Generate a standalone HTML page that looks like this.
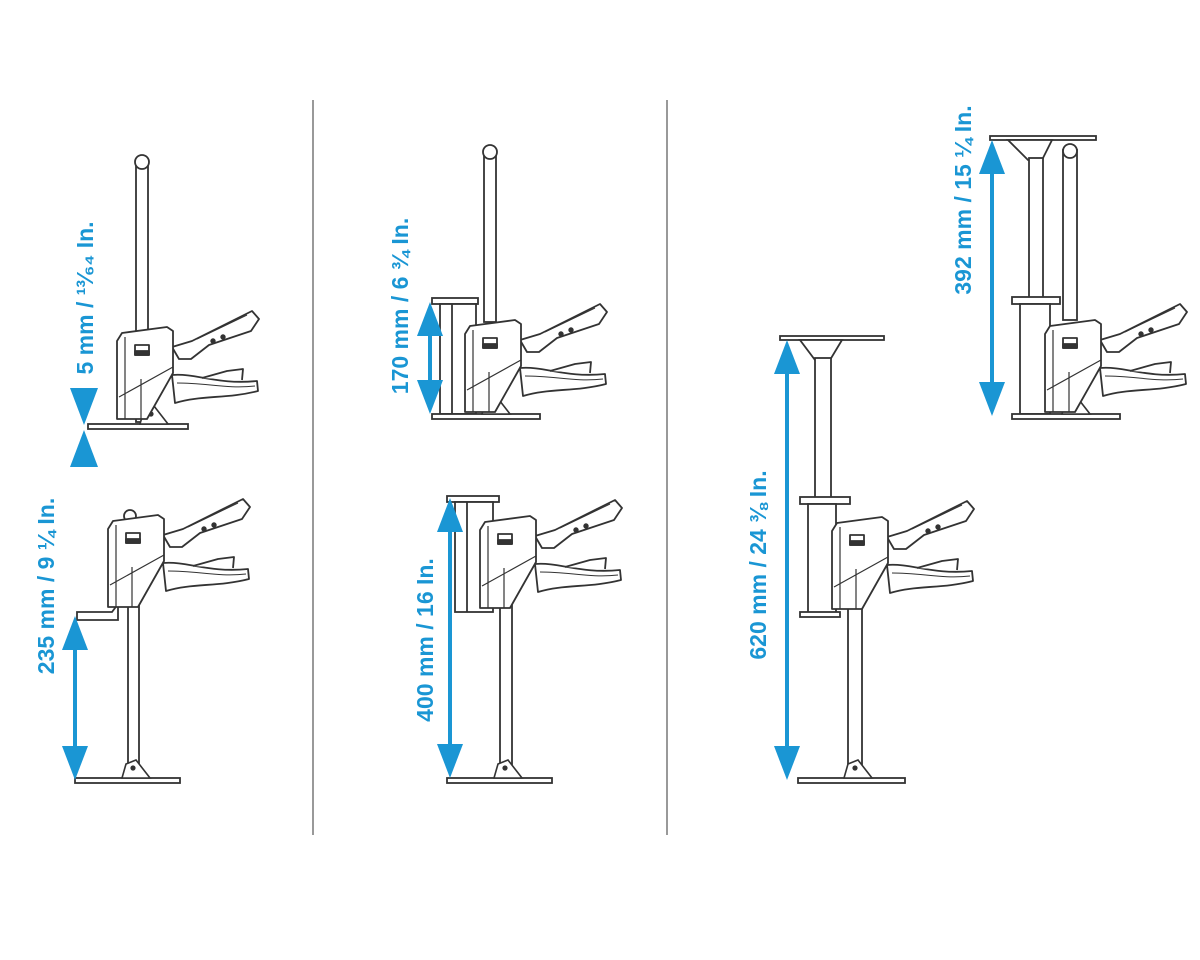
<!DOCTYPE html>
<html><head><meta charset="utf-8"><style>
html,body{margin:0;padding:0;background:#fff}
svg{display:block}
text{font-family:"Liberation Sans Narrow","Liberation Sans",sans-serif;font-weight:bold;fill:#1a96d4;font-size:23px}
</style></head><body>
<svg width="1200" height="960" viewBox="0 0 1200 960" xmlns="http://www.w3.org/2000/svg">
<defs>
<g id="head" fill="#fff" stroke="#333" stroke-width="1.8" stroke-linejoin="round">
  <path d="M55,14 L75,8 L135,-22 L142,-14 L134,-2 L92,12 L74,26 L62,26 Z"/>
  <path d="M80,6 L130,-18" fill="none" stroke-width="1"/>
  <circle cx="96" cy="8" r="1.8" fill="#333"/><circle cx="106" cy="4" r="1.8" fill="#333"/>
  <path d="M55,42 C80,40 100,52 140,48 L141,58 C110,66 84,62 58,70 Z"/>
  <path d="M85,45 L110,38 L126,36 L125,47" />
  <path d="M60,50 C90,50 110,56 138,53" fill="none" stroke-width="1"/>
  <path d="M0,8 L5,0 L50,-6 L56,-2 L56,40 L30,86 L0,86 Z"/>
  <path d="M8,4 L8,86 M2,64 L56,34 M24,46 L24,86" fill="none" stroke-width="1.2"/>
  <rect x="18" y="12" width="14" height="10" fill="#fff"/>
  <rect x="18" y="18" width="14" height="4" fill="#333"/>
</g>
<g id="foot" fill="#fff" stroke="#333" stroke-width="1.6">
  <path d="M-10,0 L-6,-14 L4,-18 L18,0 Z"/>
  <circle cx="1" cy="-10" r="1.8" fill="#333"/>
</g>
<path id="tri" d="M-13,0 L13,0 L0,-34 Z" fill="#1a96d4"/>
</defs>

<line x1="313" y1="100" x2="313" y2="835" stroke="#999" stroke-width="2"/>
<line x1="667" y1="100" x2="667" y2="835" stroke="#999" stroke-width="2"/>

<g fill="#fff" stroke="#333" stroke-width="1.8">
<rect x="136" y="162" width="12" height="260"/>
<circle cx="142" cy="162" r="7"/>
<rect x="88" y="424" width="100" height="5"/>
<use href="#foot" x="150" y="424"/>
<use href="#head" x="117" y="333"/>

<circle cx="130" cy="516" r="6"/>
<rect x="128" y="590" width="11" height="188"/>
<path d="M77,612 L112,612 L118,604 L118,620 L77,620 Z"/>
<rect x="75" y="778" width="105" height="5"/>
<use href="#foot" x="132" y="778"/>
<use href="#head" x="108" y="521"/>

<rect x="484" y="152" width="12" height="170"/>
<circle cx="490" cy="152" r="7"/>
<rect x="432" y="298" width="46" height="6"/>
<rect x="440" y="304" width="36" height="110"/>
<line x1="452" y1="304" x2="452" y2="414"/>
<rect x="432" y="414" width="108" height="5"/>
<use href="#foot" x="492" y="414"/>
<use href="#head" x="465" y="326"/>

<rect x="447" y="496" width="52" height="6"/>
<rect x="455" y="502" width="38" height="110"/>
<line x1="467" y1="502" x2="467" y2="612"/>
<rect x="500" y="600" width="12" height="178"/>
<rect x="447" y="778" width="105" height="5"/>
<use href="#foot" x="504" y="778"/>
<use href="#head" x="480" y="522"/>

<rect x="780" y="336" width="104" height="4"/>
<path d="M800,340 L842,340 L830,360 L815,360 Z"/>
<rect x="815" y="358" width="16" height="140"/>
<rect x="800" y="497" width="50" height="7"/>
<rect x="808" y="504" width="28" height="110"/>
<rect x="800" y="612" width="40" height="5"/>
<rect x="848" y="600" width="14" height="178"/>
<rect x="798" y="778" width="107" height="5"/>
<use href="#foot" x="854" y="778"/>
<use href="#head" x="832" y="523"/>

<rect x="990" y="136" width="106" height="4"/>
<path d="M1008,140 L1052,140 L1042,160 L1028,160 Z"/>
<rect x="1029" y="158" width="14" height="140"/>
<rect x="1063" y="150" width="14" height="170"/>
<circle cx="1070" cy="151" r="7"/>
<rect x="1012" y="297" width="48" height="7"/>
<rect x="1020" y="304" width="30" height="110"/>
<rect x="1012" y="414" width="108" height="5"/>
<use href="#foot" x="1072" y="414"/>
<use href="#head" x="1045" y="326"/>
</g>

<g stroke="#1a96d4" stroke-width="4">
<line x1="75" y1="640" x2="75" y2="755"/>
<line x1="430" y1="325" x2="430" y2="390"/>
<line x1="450" y1="525" x2="450" y2="750"/>
<line x1="787" y1="365" x2="787" y2="755"/>
<line x1="992" y1="165" x2="992" y2="390"/>
</g>
<path d="M70,388 L98,388 L84,425 Z" fill="#1a96d4"/>
<path d="M70,467 L98,467 L84,430 Z" fill="#1a96d4"/>
<use href="#tri" x="75" y="650"/><use href="#tri" transform="translate(75,746) scale(1,-1)"/>
<use href="#tri" x="430" y="336"/><use href="#tri" transform="translate(430,380) scale(1,-1)"/>
<use href="#tri" x="450" y="532"/><use href="#tri" transform="translate(450,744) scale(1,-1)"/>
<use href="#tri" x="787" y="374"/><use href="#tri" transform="translate(787,746) scale(1,-1)"/>
<use href="#tri" x="992" y="174"/><use href="#tri" transform="translate(992,382) scale(1,-1)"/>

<text transform="translate(93,298) rotate(-90)" text-anchor="middle">5 mm / ¹³⁄₆₄ In.</text>
<text transform="translate(54,586) rotate(-90)" text-anchor="middle">235 mm / 9 ¼ In.</text>
<text transform="translate(408,306) rotate(-90)" text-anchor="middle">170 mm / 6 ¾ In.</text>
<text transform="translate(433,640) rotate(-90)" text-anchor="middle">400 mm / 16 In.</text>
<text transform="translate(766,565) rotate(-90)" text-anchor="middle">620 mm / 24 ⅜ In.</text>
<text transform="translate(971,200) rotate(-90)" text-anchor="middle">392 mm / 15 ¼ In.</text>
</svg>
</body></html>
